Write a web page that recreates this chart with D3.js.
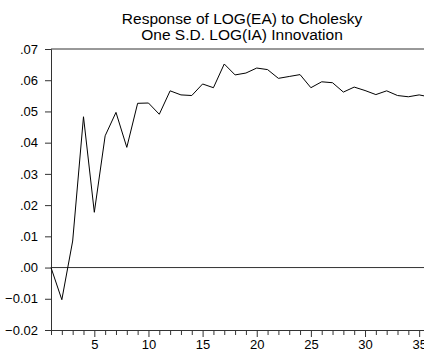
<!DOCTYPE html>
<html>
<head>
<meta charset="utf-8">
<script src="https://cdn.jsdelivr.net/npm/d3@7"></script>
<style>
  body { margin: 0; background: #fff; }
  svg { display: block; }
</style>
</head>
<body>
<div id="chart"></div>
<script>
const titleLines = ["Response of LOG(EA) to Cholesky", "One S.D. LOG(IA) Innovation"];
const periods = d3.range(1, 37);
const response = [
  0.0000, -0.0103, 0.0085, 0.0483, 0.0177, 0.0422, 0.0497, 0.0385, 0.0526, 0.0527,
  0.0491, 0.0566, 0.0553, 0.0551, 0.0588, 0.0576, 0.0652, 0.0617, 0.0623, 0.0639,
  0.0634, 0.0606, 0.0612, 0.0618, 0.0576, 0.0595, 0.0592, 0.0562, 0.0578, 0.0567,
  0.0554, 0.0566, 0.0551, 0.0547, 0.0553, 0.0546
];
const yTicks = [-0.02, -0.01, 0, 0.01, 0.02, 0.03, 0.04, 0.05, 0.06, 0.07];
const xMajor = [5, 10, 15, 20, 25, 30, 35];

const W = 424, H = 354;
const margin = { top: 49, left: 51, bottom: 24 };

const svg = d3.select("#chart").append("svg")
  .attr("width", W).attr("height", H);

const x = d3.scaleLinear().domain([1, 36]).range([margin.left, 430]);
const y = d3.scaleLinear().domain([-0.02, 0.07]).range([330, margin.top]);

const fmt = (d) => d3.format(".2f")(d).replace(/^(-?)0\./, "$1.");
const font = "Liberation Sans, Arial, sans-serif";
const axisColor = "#333";

// title
svg.append("g").selectAll("text")
  .data(titleLines)
  .join("text")
  .attr("x", 242)
  .attr("y", (d, i) => 24 + i * 15.5)
  .attr("text-anchor", "middle")
  .style("font-family", font)
  .style("font-size", "15.5px")
  .attr("fill", "#000")
  .text((d) => d);

// frame top
svg.append("line")
  .attr("x1", margin.left).attr("x2", W)
  .attr("y1", y(0.07)).attr("y2", y(0.07))
  .attr("stroke", axisColor).attr("stroke-width", 1);

// y axis
const yAxis = svg.append("g")
  .attr("transform", `translate(${margin.left},0)`)
  .call(d3.axisLeft(y).tickValues(yTicks).tickFormat(fmt).tickSize(6).tickPadding(7));
yAxis.select(".domain").attr("stroke", axisColor);
yAxis.selectAll(".tick line").attr("stroke", axisColor);
yAxis.selectAll(".tick text")
  .style("font-family", font).style("font-size", "13px").attr("fill", "#000");

// x axis minor ticks
const xMinor = svg.append("g")
  .attr("transform", `translate(0,${y(-0.02)})`)
  .call(d3.axisBottom(x).tickValues(periods.filter((p) => p % 5 !== 0)).tickSize(5).tickFormat(""));
xMinor.select(".domain").remove();
xMinor.selectAll(".tick line").attr("stroke", axisColor);

// x axis major ticks
const xAxis = svg.append("g")
  .attr("transform", `translate(0,${y(-0.02)})`)
  .call(d3.axisBottom(x).tickValues(xMajor).tickSize(7).tickSizeOuter(0).tickPadding(3));
xAxis.select(".domain").attr("stroke", axisColor);
xAxis.selectAll(".tick line").attr("stroke", axisColor);
xAxis.selectAll(".tick text")
  .style("font-family", font).style("font-size", "13px").attr("fill", "#000");

// zero line
svg.append("line")
  .attr("x1", margin.left).attr("x2", W)
  .attr("y1", y(0)).attr("y2", y(0))
  .attr("stroke", axisColor).attr("stroke-width", 1);

// response line
const line = d3.line()
  .x((d, i) => x(periods[i]))
  .y((d) => y(d));

svg.append("path")
  .datum(response)
  .attr("fill", "none")
  .attr("stroke", "#000")
  .attr("stroke-width", 1)
  .attr("d", line);
</script>
</body>
</html>
